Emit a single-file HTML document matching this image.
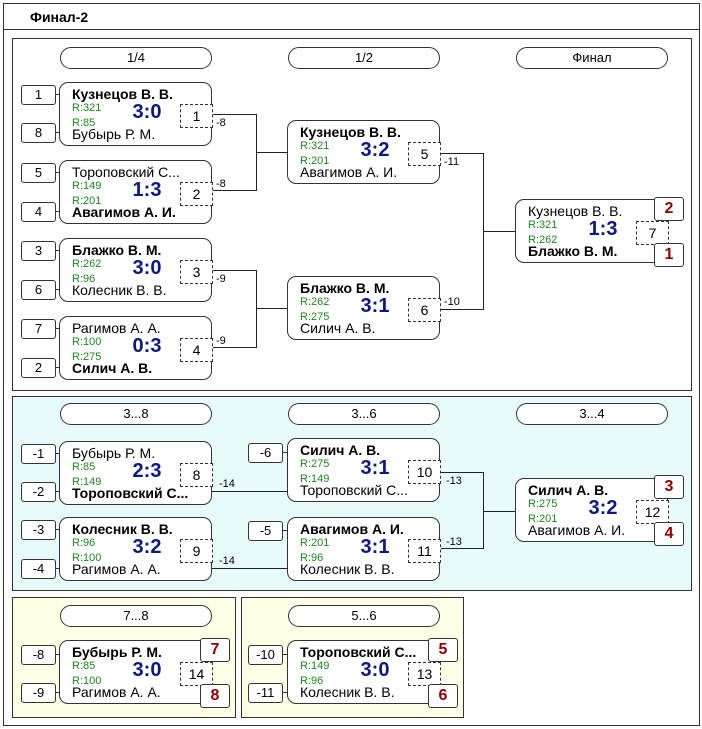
<!DOCTYPE html>
<html><head><meta charset="utf-8"><style>
*{box-sizing:border-box;margin:0;padding:0}
body{width:702px;height:729px;background:#fff;font-family:"Liberation Sans",Arial,sans-serif;position:relative;overflow:hidden}
.a{position:absolute}
.outer{left:3px;top:3px;width:697px;height:723px;border:1px solid #333}
.title{left:3px;top:3px;width:697px;height:27px;border:1px solid #333;font-weight:bold;font-size:14px;padding:5px 0 0 26px}
.pan{border:1px solid #333}
.hd{position:absolute;width:152px;height:22px;border:1px solid #333;border-radius:11px;background:#fff;text-align:center;font-size:13px;line-height:20px}
.m{position:absolute;width:153px;height:64px;border:1px solid #333;border-radius:9px;background:#fff}
.m .n1,.m .n2{position:absolute;left:12px;font-size:14px;white-space:nowrap;color:#000}
.m .n1{top:3px}.m .n2{top:43px}
.b{font-weight:bold}
.m .r1,.m .r2{position:absolute;left:12px;font-size:11px;color:#1a8a1a}
.m .r1{top:19px}.m .r2{top:34px}
.m .sc{position:absolute;left:62px;width:50px;text-align:center;top:18px;font-size:20px;font-weight:bold;color:#0a1a80}
.m .d{position:absolute;left:120px;top:21px;width:33px;height:24px;border:1px dashed #333;font-size:14px;text-align:center;line-height:22px;background:#fff}
.s{position:absolute;width:35px;height:20px;border:1px solid #333;border-radius:3px;background:#fff;font-size:13px;text-align:center;line-height:18px}
.s:after{content:"";position:absolute;right:-6px;top:8px;width:5px;height:1px;background:#333}
.p{position:absolute;width:30px;height:24px;border:1px solid #333;border-radius:3px;background:#fff;color:#8b0000;font-weight:bold;font-size:16px;text-align:center;line-height:22px}
.h{position:absolute;height:1px;background:#222}
.v{position:absolute;width:1px;background:#222}
.l{position:absolute;font-size:11px}
</style></head><body>
<div class="a outer"></div>
<div class="a title">Финал-2</div>

<div class="a pan" style="left:12px;top:38px;width:680px;height:353px;background:#fff"></div>
<div class="a pan" style="left:12px;top:396px;width:680px;height:195px;background:#e8fbfb"></div>
<div class="a pan" style="left:12px;top:597px;width:224px;height:121px;background:#ffffe6"></div>
<div class="a pan" style="left:241px;top:597px;width:223px;height:121px;background:#ffffe6"></div>

<div class="hd" style="left:60px;top:47px">1/4</div>
<div class="hd" style="left:288px;top:47px">1/2</div>
<div class="hd" style="left:516px;top:47px">Финал</div>

<!-- panel1 lines -->
<div class="h" style="left:212px;top:114px;width:44px"></div>
<div class="h" style="left:212px;top:190px;width:44px"></div>
<div class="v" style="left:256px;top:114px;height:77px"></div>
<div class="h" style="left:256px;top:152px;width:32px"></div>
<div class="h" style="left:212px;top:270px;width:44px"></div>
<div class="h" style="left:212px;top:347px;width:44px"></div>
<div class="v" style="left:256px;top:270px;height:78px"></div>
<div class="h" style="left:256px;top:308px;width:32px"></div>
<div class="h" style="left:440px;top:153px;width:43px"></div>
<div class="h" style="left:440px;top:309px;width:43px"></div>
<div class="v" style="left:483px;top:153px;height:157px"></div>
<div class="h" style="left:483px;top:231px;width:33px"></div>
<div class="l" style="left:216px;top:117px">-8</div>
<div class="l" style="left:216px;top:178px">-8</div>
<div class="l" style="left:216px;top:273px">-9</div>
<div class="l" style="left:216px;top:335px">-9</div>
<div class="l" style="left:444px;top:156px">-11</div>
<div class="l" style="left:444px;top:296px">-10</div>

<div class="s" style="left:21px;top:85px">1</div><div class="s" style="left:21px;top:123px">8</div>
<div class="m" style="left:59px;top:82px"><div class="n1 b">Кузнецов В. В.</div><div class="r1">R:321</div><div class="r2">R:85</div><div class="sc">3:0</div><div class="d">1</div><div class="n2">Бубырь Р. М.</div></div>
<div class="s" style="left:21px;top:163px">5</div><div class="s" style="left:21px;top:202px">4</div>
<div class="m" style="left:59px;top:160px"><div class="n1">Тороповский С...</div><div class="r1">R:149</div><div class="r2">R:201</div><div class="sc">1:3</div><div class="d">2</div><div class="n2 b">Авагимов А. И.</div></div>
<div class="s" style="left:21px;top:241px">3</div><div class="s" style="left:21px;top:280px">6</div>
<div class="m" style="left:59px;top:238px"><div class="n1 b">Блажко В. М.</div><div class="r1">R:262</div><div class="r2">R:96</div><div class="sc">3:0</div><div class="d">3</div><div class="n2">Колесник В. В.</div></div>
<div class="s" style="left:21px;top:319px">7</div><div class="s" style="left:21px;top:358px">2</div>
<div class="m" style="left:59px;top:316px"><div class="n1">Рагимов А. А.</div><div class="r1">R:100</div><div class="r2">R:275</div><div class="sc">0:3</div><div class="d">4</div><div class="n2 b">Силич А. В.</div></div>

<div class="m" style="left:287px;top:120px"><div class="n1 b">Кузнецов В. В.</div><div class="r1">R:321</div><div class="r2">R:201</div><div class="sc">3:2</div><div class="d">5</div><div class="n2">Авагимов А. И.</div></div>
<div class="m" style="left:287px;top:276px"><div class="n1 b">Блажко В. М.</div><div class="r1">R:262</div><div class="r2">R:275</div><div class="sc">3:1</div><div class="d">6</div><div class="n2">Силич А. В.</div></div>

<div class="m" style="left:515px;top:199px"><div class="n1">Кузнецов В. В.</div><div class="r1">R:321</div><div class="r2">R:262</div><div class="sc">1:3</div><div class="d">7</div><div class="n2 b">Блажко В. М.</div></div>
<div class="p" style="left:654px;top:197px">2</div><div class="p" style="left:654px;top:243px">1</div>

<!-- panel2 -->
<div class="hd" style="left:60px;top:403px">3...8</div>
<div class="hd" style="left:288px;top:403px">3...6</div>
<div class="hd" style="left:516px;top:403px">3...4</div>
<div class="h" style="left:212px;top:491px;width:76px"></div>
<div class="h" style="left:212px;top:568px;width:76px"></div>
<div class="l" style="left:219px;top:478px">-14</div>
<div class="l" style="left:219px;top:555px">-14</div>
<div class="h" style="left:440px;top:472px;width:43px"></div>
<div class="h" style="left:440px;top:548px;width:43px"></div>
<div class="v" style="left:483px;top:472px;height:77px"></div>
<div class="h" style="left:483px;top:511px;width:33px"></div>
<div class="l" style="left:446px;top:475px">-13</div>
<div class="l" style="left:446px;top:536px">-13</div>

<div class="s" style="left:21px;top:444px">-1</div><div class="s" style="left:21px;top:482px">-2</div>
<div class="m" style="left:59px;top:441px"><div class="n1">Бубырь Р. М.</div><div class="r1">R:85</div><div class="r2">R:149</div><div class="sc">2:3</div><div class="d">8</div><div class="n2 b">Тороповский С...</div></div>
<div class="s" style="left:21px;top:520px">-3</div><div class="s" style="left:21px;top:559px">-4</div>
<div class="m" style="left:59px;top:517px"><div class="n1 b">Колесник В. В.</div><div class="r1">R:96</div><div class="r2">R:100</div><div class="sc">3:2</div><div class="d">9</div><div class="n2">Рагимов А. А.</div></div>
<div class="s" style="left:248px;top:443px">-6</div>
<div class="m" style="left:287px;top:438px"><div class="n1 b">Силич А. В.</div><div class="r1">R:275</div><div class="r2">R:149</div><div class="sc">3:1</div><div class="d">10</div><div class="n2">Тороповский С...</div></div>
<div class="s" style="left:248px;top:521px">-5</div>
<div class="m" style="left:287px;top:517px"><div class="n1 b">Авагимов А. И.</div><div class="r1">R:201</div><div class="r2">R:96</div><div class="sc">3:1</div><div class="d">11</div><div class="n2">Колесник В. В.</div></div>
<div class="m" style="left:515px;top:478px"><div class="n1 b">Силич А. В.</div><div class="r1">R:275</div><div class="r2">R:201</div><div class="sc">3:2</div><div class="d">12</div><div class="n2">Авагимов А. И.</div></div>
<div class="p" style="left:654px;top:475px">3</div><div class="p" style="left:654px;top:522px">4</div>

<!-- panel3 -->
<div class="hd" style="left:60px;top:605px">7...8</div>
<div class="hd" style="left:288px;top:605px">5...6</div>
<div class="s" style="left:21px;top:645px">-8</div><div class="s" style="left:21px;top:683px">-9</div>
<div class="m" style="left:59px;top:640px"><div class="n1 b">Бубырь Р. М.</div><div class="r1">R:85</div><div class="r2">R:100</div><div class="sc">3:0</div><div class="d">14</div><div class="n2">Рагимов А. А.</div></div>
<div class="p" style="left:200px;top:638px">7</div><div class="p" style="left:200px;top:684px">8</div>
<div class="s" style="left:248px;top:645px">-10</div><div class="s" style="left:248px;top:683px">-11</div>
<div class="m" style="left:287px;top:640px"><div class="n1 b">Тороповский С...</div><div class="r1">R:149</div><div class="r2">R:96</div><div class="sc">3:0</div><div class="d">13</div><div class="n2">Колесник В. В.</div></div>
<div class="p" style="left:428px;top:638px">5</div><div class="p" style="left:428px;top:684px">6</div>
</body></html>
